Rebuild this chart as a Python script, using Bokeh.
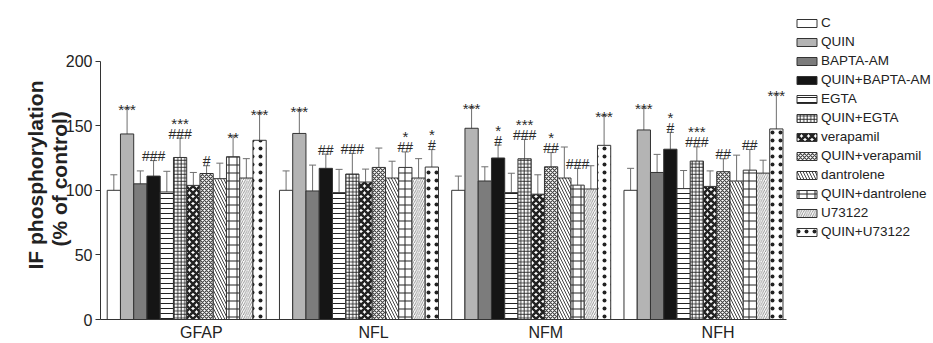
from bokeh.plotting import figure
from bokeh.models import (ColumnDataSource, Whisker, TeeHead, Legend, LegendItem,
                          FixedTicker, Range1d, Title)
from bokeh.embed import file_html
from bokeh.resources import INLINE
from bokeh.core.properties import value

groups = ["GFAP", "NFL", "NFM", "NFH"]
treatments = ["C", "QUIN", "BAPTA-AM", "QUIN+BAPTA-AM", "EGTA", "QUIN+EGTA",
              "verapamil", "QUIN+verapamil", "dantrolene", "QUIN+dantrolene",
              "U73122", "QUIN+U73122"]

gfap_mean = [100, 143.6, 105, 111, 98.7, 125.4, 103.8, 113, 109, 126, 109.5, 138.7]
gfap_err = [12, 20, 10, 12, 16, 15, 10, 6, 12, 16, 15, 21]
nfl_mean = [100, 144, 99.5, 117, 98.2, 112.6, 106.4, 117.7, 109.5, 117.7, 109.5, 118]
nfl_err = [15, 18, 20, 11, 18, 16, 10, 15, 13, 12, 15, 13.5]
nfm_mean = [100, 148, 107.2, 125, 98.2, 124.4, 97, 118.2, 109.5, 104, 101, 134.8]
nfm_err = [11, 16, 11, 10, 15, 15, 15, 11, 24, 13, 18, 23]
nfh_mean = [100, 146.7, 113.8, 131.8, 101.3, 122.6, 103, 114.4, 107.2, 115.6, 113.3, 147.5]
nfh_err = [17, 17, 14, 13, 14, 11, 12, 10, 20, 16, 10, 27]

gfap_star = ["", "***", "", "", "", "***", "", "", "", "**", "", "***"]
gfap_hash = ["", "", "", "###", "", "###", "", "#", "", "", "", ""]
nfl_star = ["", "***", "", "", "", "", "", "", "", "*", "", "*"]
nfl_hash = ["", "", "", "##", "", "###", "", "", "", "##", "", "#"]
nfm_star = ["", "***", "", "*", "", "***", "", "*", "", "", "", "***"]
nfm_hash = ["", "", "", "#", "", "###", "", "##", "", "###", "", ""]
nfh_star = ["", "***", "", "*", "", "***", "", "", "", "", "", "***"]
nfh_hash = ["", "", "", "#", "", "###", "", "##", "", "##", "", ""]

y_ticks = [0, 50, 100, 150, 200]
y_title = ["IF phosphorylation", "(% of control)"]

means = [gfap_mean, nfl_mean, nfm_mean, nfh_mean]
errs = [gfap_err, nfl_err, nfm_err, nfh_err]
stars = [gfap_star, nfl_star, nfm_star, nfh_star]
hashes = [gfap_hash, nfl_hash, nfm_hash, nfh_hash]

n_t = len(treatments)
period = n_t + 1

# styles
fills = ["white", "#b4b4b4", "#7c7c7c", "#151515"] + ["white"] * 8
hatches = [None, None, None, None, "-", "+", "x", "x", "\\", "+", "/", "."]
hscale = [1, 1, 1, 1, 5, 3.5, 7, 4, 6, 8, 4.5, 8]
hweight = [1, 1, 1, 1, 1, 0.9, 2.6, 1.2, 1, 1, 0.8, 1.6]
hcolor = ["#222"] * 7 + ["#444", "#444", "#222", "#777", "#222"]

FONT = "Liberation Sans"

p = figure(width=933, height=343,
           x_range=Range1d(-0.506, 62.36), y_range=Range1d(0, 246.9),
           output_backend="svg", toolbar_location=None,
           min_border_left=100, min_border_right=0, min_border_top=0,
           min_border_bottom=22)
p.outline_line_color = None
p.grid.visible = False
p.background_fill_color = "white"

items = []
for j, t in enumerate(treatments):
    xs = [g * period + j + 0.5 for g in range(len(groups))]
    tops = [means[g][j] for g in range(len(groups))]
    src = ColumnDataSource(dict(x=xs, top=tops))
    kw = {}
    if hatches[j] is not None:
        kw = dict(hatch_pattern=hatches[j], hatch_scale=hscale[j],
                  hatch_weight=hweight[j], hatch_color=hcolor[j])
    r = p.vbar(x="x", top="top", bottom=0, width=1.0, source=src,
               fill_color=fills[j], line_color="#333333", line_width=1, **kw)
    items.append(LegendItem(label=t, renderers=[r]))

# error bars
ex, eu, el = [], [], []
ax, ay, ah, ast, aoff = [], [], [], [], []
for g in range(len(groups)):
    for j in range(n_t):
        x = g * period + j + 0.5
        m = means[g][j]
        e = errs[g][j]
        ex.append(x); eu.append(m + e); el.append(m - e)
        ax.append(x); ay.append(m + e)
        ah.append(hashes[g][j]); ast.append(stars[g][j])
        aoff.append(-15 if hashes[g][j] else 1)

esrc = ColumnDataSource(dict(base=ex, upper=eu, lower=el))
wh = Whisker(source=esrc, base="base", upper="upper", lower="lower",
             line_color="#6e6e6e", line_width=1,
             upper_head=TeeHead(size=7, line_color="#6e6e6e", line_width=1),
             lower_head=TeeHead(size=7, line_color="#6e6e6e", line_width=1))
p.add_layout(wh)

asrc = ColumnDataSource(dict(x=ax, y=ay, h=ah, s=ast, off=aoff))
p.text(x="x", y="y", text="h", source=asrc, text_align="center",
       text_baseline="alphabetic", y_offset=-4.5, text_font=value(FONT),
       text_font_size="14px", text_color="#2a2a2a")
p.text(x="x", y="y", text="s", source=asrc, text_align="center",
       text_baseline="alphabetic", y_offset="off", text_font=value(FONT),
       text_font_size="15px", text_color="#2a2a2a")

# axes
yax = p.yaxis[0]
yax.ticker = FixedTicker(ticks=y_ticks)
yax.bounds = (0, 200)
yax.major_label_text_font = FONT
yax.major_label_text_font_size = "16px"
yax.major_label_text_color = "#222"
yax.major_tick_out = 5
yax.major_tick_in = 0
yax.minor_tick_line_color = None
yax.major_label_standoff = 3
yax.axis_line_color = "#333"
yax.major_tick_line_color = "#333"

# y-axis title: two lines, each its own Title in the left panel
t2 = Title(text=y_title[1], align="left", offset=73, standoff=-16,
           vertical_align="bottom", text_font=FONT, text_font_style="bold",
           text_font_size="21px", text_color="#222")
t1 = Title(text=y_title[0], align="left", offset=50, standoff=14,
           vertical_align="bottom", text_font=FONT, text_font_style="bold",
           text_font_size="21px", text_color="#222")
p.add_layout(t2, "left")
p.add_layout(t1, "left")

xax = p.xaxis[0]
centers = [g * period + 7.1 for g in range(len(groups))]
xax.ticker = FixedTicker(ticks=centers)
xax.major_label_overrides = {c: name for c, name in zip(centers, groups)}
xax.bounds = (-0.506, 51.3)
xax.major_tick_line_color = None
xax.major_tick_out = 0
xax.major_tick_in = 0
xax.minor_tick_line_color = None
xax.major_label_standoff = 4
xax.major_label_text_line_height = 1.0
xax.major_label_text_font = FONT
xax.major_label_text_font_size = "16px"
xax.major_label_text_color = "#222"
xax.axis_line_color = "#333"

legend = Legend(items=items, location=(694, 80), padding=0, margin=0,
                border_line_color=None, background_fill_alpha=0,
                glyph_width=25, glyph_height=10, label_height=15,
                label_standoff=2, spacing=4,
                label_text_font=FONT, label_text_font_size="13.5px",
                label_text_color="#222")
p.add_layout(legend)

open("out.html", "w").write(file_html(p, INLINE))
